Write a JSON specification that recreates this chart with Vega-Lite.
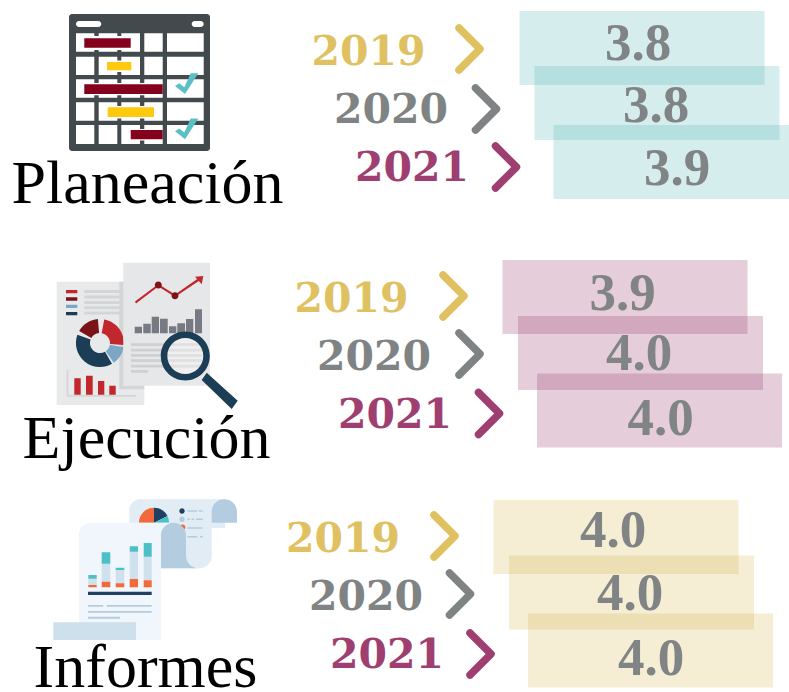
{
"$schema":"https://vega.github.io/schema/vega-lite/v6.json",
"width":789,"height":692,"padding":0,
"autosize":{"type":"fit","contains":"padding"},
"background":"#ffffff",
"config":{"view":{"stroke":null}},
"datasets":{
"scores":[
{"order":0,"section":"Planeación","year":"2019","score":3.8},
{"order":1,"section":"Planeación","year":"2020","score":3.8},
{"order":2,"section":"Planeación","year":"2021","score":3.9},
{"order":3,"section":"Ejecución","year":"2019","score":3.9},
{"order":4,"section":"Ejecución","year":"2020","score":4.0},
{"order":5,"section":"Ejecución","year":"2021","score":4.0},
{"order":6,"section":"Informes","year":"2019","score":4.0},
{"order":7,"section":"Informes","year":"2020","score":4.0},
{"order":8,"section":"Informes","year":"2021","score":4.0}
],
"sections":[
{"index":0,"section":"Planeación"},
{"index":1,"section":"Ejecución"},
{"index":2,"section":"Informes"}
],
"icons":[
{"index":0,"part":"a1"},{"index":0,"part":"a2"},{"index":0,"part":"a3"},{"index":0,"part":"a4"},{"index":0,"part":"a5"},
{"index":1,"part":"b1"},{"index":1,"part":"b2"},{"index":1,"part":"b3"},{"index":1,"part":"b4"},{"index":1,"part":"b5"},{"index":1,"part":"b6"},{"index":1,"part":"b7"},{"index":1,"part":"b8"},{"index":1,"part":"b9"},{"index":1,"part":"b10"},{"index":1,"part":"b11"},{"index":1,"part":"b12"},{"index":1,"part":"b13"},
{"index":2,"part":"c0"},{"index":2,"part":"c1"},{"index":2,"part":"c2"},{"index":2,"part":"c3"},{"index":2,"part":"c4"},{"index":2,"part":"c5"},{"index":2,"part":"c6"},{"index":2,"part":"c7"},{"index":2,"part":"c8"},{"index":2,"part":"c9"},{"index":2,"part":"c10"},{"index":2,"part":"c11"},{"index":2,"part":"c12"}
]
},
"resolve":{"scale":{"x":"independent","y":"independent","color":"independent"}},
"layer":[
{"data":{"name":"icons"},
"mark":{"type":"point","filled":true,"size":4,"opacity":1,"strokeWidth":0,"clip":true},
"encoding":{
"x":{"field":"index","type":"quantitative","axis":null,"scale":{"domain":[0,1,2],"range":[69,56,53],"zero":false,"nice":false}},
"y":{"field":"index","type":"quantitative","axis":null,"scale":{"domain":[0,1,2],"range":[14,262,498],"zero":false,"nice":false}},
"shape":{"field":"part","type":"nominal","legend":null,"scale":{
"domain":["a1","a2","a3","a4","a5","b1","b2","b3","b4","b5","b6","b7","b8","b9","b10","b11","b12","b13","c0","c1","c2","c3","c4","c5","c6","c7","c8","c9","c10","c11","c12"],
"range":[
"M3,0H138A3,3 0 0 1 141,3V134A3,3 0 0 1 138,137H3A3,3 0 0 1 0,134V3A3,3 0 0 1 3,0Z",
"M10,7H29.3A3,3 0 0 1 29.3,13H10A3,3 0 0 1 10,7ZM125.7,7H131.7A3,3 0 0 1 131.7,13H125.7A3,3 0 0 1 125.7,7ZM7,19.3H25.3V37.7H7ZM29.7,19.3H48.3V37.7H29.7ZM52.3,19.3H71V37.7H52.3ZM75.3,19.3H93.7V37.7H75.3ZM98,19.3H134.7V37.7H98ZM7,42.7H25.3V61H7ZM29.7,42.7H48.3V61H29.7ZM52.3,42.7H71V61H52.3ZM75.3,42.7H93.7V61H75.3ZM98,42.7H134.7V61H98ZM7,65.3H25.3V83.7H7ZM29.7,65.3H48.3V83.7H29.7ZM52.3,65.3H71V83.7H52.3ZM75.3,65.3H93.7V83.7H75.3ZM98,65.3H134.7V83.7H98ZM7,88.3H25.3V106.7H7ZM29.7,88.3H48.3V106.7H29.7ZM52.3,88.3H71V106.7H52.3ZM75.3,88.3H93.7V106.7H75.3ZM98,88.3H134.7V106.7H98ZM7,111H25.3V130H7ZM29.7,111H48.3V130H29.7ZM52.3,111H71V130H52.3ZM75.3,111H93.7V130H75.3ZM98,111H134.7V130H98ZM14,22H63V36H14ZM36.5,46.5H64V58H36.5ZM14,69H93.7V81.3H14ZM37,92H86.5V104.5H37ZM60.5,115H93.7V126.5H60.5Z",
"M15.3,24.3H61.7V33.7H15.3ZM15.3,70.3H93.7V80H15.3ZM61.7,116H93.7V125.3H61.7Z",
"M38,48H62.3V56.3H38ZM38.7,93.3H85V103H38.7Z",
"M106,72L110.3,69.3L115.3,73.3L121.7,59.3H129.3L116,80ZM106,117.3L110.3,114.6L115.3,118.6L121.7,104.6H129.3L116,125.3Z",
"M0.7,19.7H88.3V143H0.7Z",
"M63.3,19.7H88.3V127.3H63.3ZM10.7,108H12.3V133H80V134.7H10.7ZM28.3,28H67V31H28.3ZM28.3,33.5H67V36.5H28.3ZM28.3,39H67V42H28.3ZM28.3,44.2H67V47.2H28.3ZM28.3,49.5H67V52.5H28.3Z",
"M10,28H21.3V31.3H10ZM48.2,57.4A24,24 0 0 1 67.9,83.1L54,81.9A10,10 0 0 0 45.7,71.2ZM18.3,116.3H24.7V132.7H18.3ZM30,113.7H36.7V132.7H30ZM42,119H48.3V132.7H42ZM53.3,123.7H59.7V132.7H53.3Z",
"M10,35.3H21.3V38.7H10ZM23.2,69A24,24 0 0 1 41.9,57.1L43.1,71A10,10 0 0 0 35.3,76Z",
"M10,42.7H21.3V46H10ZM67.6,85.2A24,24 0 0 1 57.8,100.7L49.7,89.2A10,10 0 0 0 53.8,82.7Z",
"M10,50H21.3V53.3H10ZM56,101.8A24,24 0 0 1 21.4,72.8L34.6,77.6A10,10 0 0 0 49,89.7Z",
"M67.3,0.7H154V123.7H67.3Z",
"M75,81.3H146V84H75ZM75,86.7H146V89.4H75ZM75,92H146V94.7H75ZM75,97.3H146V100H75ZM75,102.7H146V105.4H75ZM75,108H92V110.7H75Z",
"M78.7,64.7H86V71.3H78.7ZM87.3,61.7H94.7V71.3H87.3ZM95.7,54.7H103V71.3H95.7ZM104,56.7H111.7V71.3H104ZM113,64.3H120.3V71.3H113ZM121.3,61.3H129V71.3H121.3ZM130,57H137.3V71.3H130ZM139,47.3H146V71.3H139Z",
"M79,39.5L102.3,22L119,32.5L142,16.5L143.5,18.5L119,35L102.3,24.5L80,41.5ZM139,14.7L147.3,14L145.7,22.3Z",
"M98.8,23A3.5,3.5 0 1 1 105.8,23A3.5,3.5 0 1 1 98.8,23ZM115.5,33.7A3.5,3.5 0 1 1 122.5,33.7A3.5,3.5 0 1 1 115.5,33.7Z",
"M111.3,94A18,18 0 1 1 147.3,94A18,18 0 1 1 111.3,94Z",
"M104.8,94A24.5,24.5 0 1 1 153.8,94A24.5,24.5 0 1 1 104.8,94ZM111.3,94A18,18 0 1 0 147.3,94A18,18 0 1 0 111.3,94ZM150.7,110.7L181.7,138.7L175.7,147L145.7,118Z",
"M76.3,30V12A11,11 0 0 1 87,1.3H172V30H158.7V58A12,12 0 0 1 147,70.3H100V30Z",
"M158.7,24.7V13.5A12.5,12.2 0 0 1 184,13.5V24.7ZM126.3,21.3A2.7,2.7 0 1 1 131.7,21.3A2.7,2.7 0 1 1 126.3,21.3ZM134.3,12.2H144.3V13.8H134.3ZM146,12.2H149.7V13.8H146ZM134.3,20.5H137V22.1H134.3ZM138.5,20.5H141V22.1H138.5ZM143,20.5H149.7V22.1H143ZM134.3,29.2H149.7V30.8H134.3ZM134.3,37.9H144.3V39.5H134.3ZM147,37.9H149.7V39.5H147Z",
"M101,24.7V9.7A15,15 0 0 0 86,24.7ZM127,29.3A2.7,2.7 0 1 1 132.4,29.3A2.7,2.7 0 1 1 127,29.3Z",
"M101,24.7V9.7A15,15 0 0 1 114.5,18ZM126.3,13A2.7,2.7 0 1 1 131.7,13A2.7,2.7 0 1 1 126.3,13Z",
"M101,24.7L114.5,18A15,15 0 0 1 116,24.7Z",
"M26,142V36A12,12 0 0 1 38,24.7H120.5A12.5,12.5 0 0 0 108,37.2V142Z",
"M108,37.2A12.5,12.5 0 0 1 133,37.2V58A12.5,12.5 0 0 0 145.5,70.3H108Z",
"M0.3,124.3H83V142H0.3Z",
"M35.3,80.7H43.7V87H35.3ZM48.7,65.7H57.3V83.7H48.7ZM62.7,72H71.3V85.3H62.7ZM76.7,53.7H85V81H76.7ZM90.7,58.7H98.7V82.3H90.7Z",
"M35.3,77H43.7V80.7H35.3ZM48.7,54.3H57.3V65.7H48.7ZM62.7,69.7H71.3V72H62.7ZM76.7,48.3H85V53.7H76.7ZM90.7,45H98.7V58.7H90.7Z",
"M35.3,87H43.7V89.3H35.3ZM48.7,83.7H57.3V89.3H48.7ZM62.7,85.3H71.3V89.3H62.7ZM76.7,81H85V89.3H76.7ZM90.7,82.3H98.7V89.3H90.7Z",
"M35,93.7H98.7V97H35Z",
"M35,107H50.3V108.7H35ZM53.7,107H98.7V108.7H53.7ZM35,113H98.7V114.7H35ZM35,118.7H67V120.7H35Z"
]}},
"color":{"field":"part","type":"nominal","legend":null,"scale":{
"domain":["a1","a2","a3","a4","a5","b1","b2","b3","b4","b5","b6","b7","b8","b9","b10","b11","b12","b13","c0","c1","c2","c3","c4","c5","c6","c7","c8","c9","c10","c11","c12"],
"range":["#434a4e","#ffffff","#85001c","#ffc90e","#5bc0c4","#e8e9ea","#d4d5d7","#c1272d","#7b1416","#7ba7c4","#1b3d55","#e6e7e8","#cfd0d2","#777a82","#c1272d","#7b1416","rgba(255,255,255,0.35)","#1b3d55","#e1ecf5","#b4cce0","#f26a3b","#1f3f63","#4cbfc7","#f1f6fc","#b4cce0","#cde0ec","#cfe1ec","#4cbfc7","#f26a3b","#1f3f63","#b4cce0"]
}}
}},
{"data":{"name":"sections"},
"mark":{"type":"text","font":"Liberation Serif","fontSize":62,"align":"center","baseline":"alphabetic","color":"#000000","clip":true},
"encoding":{
"text":{"field":"section","type":"nominal"},
"x":{"field":"index","type":"quantitative","axis":null,"scale":{"domain":[0,1,2],"range":[147.5,146.5,145.5],"zero":false,"nice":false}},
"y":{"field":"index","type":"quantitative","axis":null,"scale":{"domain":[0,1,2],"range":[203,458,687],"zero":false,"nice":false}}
}},
{"data":{"name":"scores"},
"mark":{"type":"tick","orient":"horizontal","size":245,"thickness":74,"opacity":0.26,"clip":true},
"encoding":{
"x":{"field":"order","type":"quantitative","axis":null,"scale":{"domain":[0,1,2,3,4,5,6,7,8],"range":[642,657,676,625,640.5,659.5,616,631.5,650.5],"zero":false,"nice":false}},
"y":{"field":"order","type":"quantitative","axis":null,"scale":{"domain":[0,1,2,3,4,5,6,7,8],"range":[48,103,162,297,353,410.5,537,592.5,650.5],"zero":false,"nice":false}},
"color":{"field":"section","type":"nominal","legend":null,"scale":{"domain":["Planeación","Ejecución","Informes"],"range":["#5ebaba","#9b3f71","#d9b95a"]}}
}},
{"data":{"name":"scores"},
"mark":{"type":"text","font":"DejaVu Serif","fontWeight":"bold","fontSize":41,"align":"center","baseline":"alphabetic","clip":true},
"encoding":{
"text":{"field":"year","type":"nominal"},
"x":{"field":"order","type":"quantitative","axis":null,"scale":{"domain":[0,1,2,3,4,5,6,7,8],"range":[368.5,391,412,351.5,374,395,343,366,387],"zero":false,"nice":false}},
"y":{"field":"order","type":"quantitative","axis":null,"scale":{"domain":[0,1,2,3,4,5,6,7,8],"range":[65,123,181,312,370,428,552,610,668],"zero":false,"nice":false}},
"color":{"field":"year","type":"nominal","legend":null,"scale":{"domain":["2019","2020","2021"],"range":["#dfc162","#7f8383","#9f3f71"]}}
}},
{"data":{"name":"scores"},
"mark":{"type":"point","filled":false,"opacity":1,"size":1764,"strokeWidth":7.5,"strokeCap":"round","strokeJoin":"round","shape":"M-0.5,-1L0.5,0L-0.5,1","clip":true},
"encoding":{
"x":{"field":"order","type":"quantitative","axis":null,"scale":{"domain":[0,1,2,3,4,5,6,7,8],"range":[469.5,486,506,453.5,469.5,489,444.5,460,480.5],"zero":false,"nice":false}},
"y":{"field":"order","type":"quantitative","axis":null,"scale":{"domain":[0,1,2,3,4,5,6,7,8],"range":[49,109,167,296,354,413.5,536,594,654],"zero":false,"nice":false}},
"color":{"field":"year","type":"nominal","legend":null,"scale":{"domain":["2019","2020","2021"],"range":["#dfc162","#7f8383","#9f3f71"]}}
}},
{"data":{"name":"scores"},
"mark":{"type":"text","font":"Liberation Serif","fontWeight":"bold","fontSize":53,"align":"center","baseline":"alphabetic","color":"#808484","clip":true},
"encoding":{
"text":{"field":"score","type":"quantitative","format":".1f"},
"x":{"field":"order","type":"quantitative","axis":null,"scale":{"domain":[0,1,2,3,4,5,6,7,8],"range":[638,656,677,622.5,639,660.5,613,630,651],"zero":false,"nice":false}},
"y":{"field":"order","type":"quantitative","axis":null,"scale":{"domain":[0,1,2,3,4,5,6,7,8],"range":[60,122,185,310,370,435,547,610,675],"zero":false,"nice":false}}
}}
]
}
